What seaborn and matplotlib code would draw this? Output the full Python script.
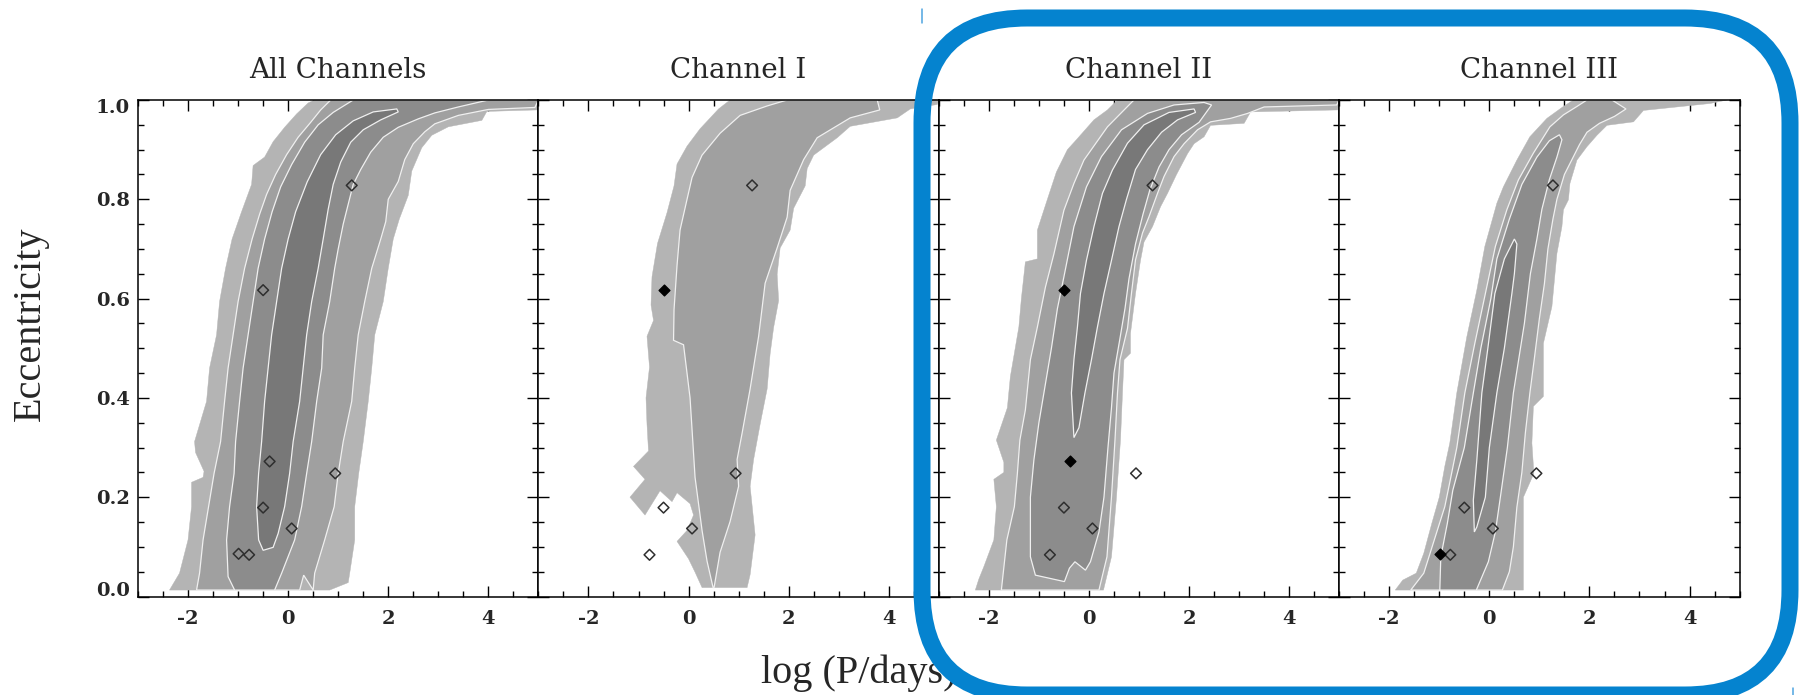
import numpy as np
import pandas as pd
import matplotlib
matplotlib.use('Agg')
import matplotlib.pyplot as plt
import matplotlib as mpl
import matplotlib.transforms as mtransforms
from matplotlib.patches import FancyBboxPatch
from matplotlib.lines import Line2D
import seaborn as sns

sns.set_style('ticks')
plt.rcParams['font.family'] = ['DejaVu Serif']
plt.rcParams['axes.unicode_minus'] = False

## ============================ data

titles = ['All Channels', 'Channel I', 'Channel II', 'Channel III']
greys = ['#b4b4b4', '#a0a0a0', '#8c8c8c', '#787878']

# observed planets (log P, e)
planet_logp = [1.27, -0.50, -0.37, 0.94, -0.50, 0.07, -0.99, -0.78]
planet_ecc = [0.828, 0.617, 0.272, 0.248, 0.179, 0.137, 0.086, 0.084]

shown_all = [1, 1, 1, 1, 1, 1, 1, 1]
shown_ch1 = [1, 1, 0, 1, 1, 1, 0, 1]
shown_ch2 = [1, 1, 1, 1, 1, 1, 0, 1]
shown_ch3 = [1, 0, 0, 1, 1, 1, 1, 1]

filled_all = [0, 0, 0, 0, 0, 0, 0, 0]
filled_ch1 = [0, 1, 0, 0, 0, 0, 0, 0]
filled_ch2 = [0, 1, 1, 0, 0, 0, 0, 0]
filled_ch3 = [0, 0, 0, 0, 0, 0, 1, 0]

# contour outlines, (log P, e); left edge upward then right edge downward
all_l1 = [(-2.37, 0.013), (-2.17, 0.047), (-2.0, 0.114), (-1.93, 0.181), (-1.93, 0.23), (-1.70, 0.24),
          (-1.68, 0.252), (-1.85, 0.29), (-1.87, 0.312), (-1.63, 0.393), (-1.57, 0.46), (-1.43, 0.527),
          (-1.37, 0.594), (-1.25, 0.661), (-1.12, 0.72), (-0.93, 0.775), (-0.73, 0.83), (-0.70, 0.868),
          (-0.47, 0.885), (-0.30, 0.916), (-0.07, 0.945), (0.17, 0.972), (0.40, 0.994), (0.53, 1.0),
          (5.0, 1.0), (4.97, 0.98), (3.97, 0.977), (3.87, 0.959), (3.2, 0.946), (2.87, 0.929), (2.67, 0.904),
          (2.47, 0.857), (2.4, 0.808), (2.22, 0.76), (2.1, 0.72), (2.0, 0.661), (1.9, 0.594), (1.73, 0.527),
          (1.67, 0.46), (1.6, 0.393), (1.5, 0.312), (1.41, 0.248), (1.33, 0.181), (1.33, 0.114),
          (1.23, 0.047), (1.2, 0.028), (0.83, 0.013)]
all_l2 = [(-1.83, 0.013), (-1.77, 0.047), (-1.7, 0.114), (-1.59, 0.181), (-1.48, 0.248), (-1.35, 0.312),
          (-1.27, 0.393), (-1.2, 0.46), (-1.1, 0.527), (-1.0, 0.594), (-0.87, 0.661), (-0.72, 0.72),
          (-0.57, 0.77), (-0.43, 0.81), (-0.25, 0.85), (-0.03, 0.89), (0.2, 0.925), (0.45, 0.955),
          (0.65, 0.98), (0.85, 1.0),
          (5.0, 1.0), (4.93, 0.985), (4.0, 0.981), (3.4, 0.969), (2.93, 0.952), (2.73, 0.936), (2.5, 0.912),
          (2.33, 0.88), (2.2, 0.836), (2.0, 0.8), (1.95, 0.755), (1.85, 0.72), (1.67, 0.661), (1.53, 0.594),
          (1.4, 0.527), (1.33, 0.46), (1.27, 0.393), (1.1, 0.312), (1.0, 0.248), (0.92, 0.181),
          (0.73, 0.114), (0.53, 0.047), (0.5, 0.013), (0.31, 0.043), (0.23, 0.013)]
all_l3 = [(-1.07, 0.013), (-1.2, 0.04), (-1.23, 0.114), (-1.17, 0.181), (-1.08, 0.248), (-1.05, 0.312),
          (-0.97, 0.393), (-0.9, 0.46), (-0.8, 0.527), (-0.7, 0.594), (-0.6, 0.661), (-0.47, 0.72),
          (-0.32, 0.775), (-0.15, 0.825), (0.07, 0.87), (0.33, 0.915), (0.6, 0.95), (0.9, 0.975), (1.3, 1.0),
          (4.0, 1.0), (3.4, 0.986), (2.93, 0.974), (2.6, 0.962), (2.2, 0.945), (1.9, 0.925), (1.65, 0.895),
          (1.45, 0.86), (1.3, 0.83), (1.2, 0.79), (1.1, 0.75), (1.0, 0.7), (0.93, 0.661), (0.83, 0.594),
          (0.7, 0.527), (0.67, 0.46), (0.57, 0.393), (0.47, 0.312), (0.37, 0.248), (0.27, 0.181),
          (0.13, 0.114), (-0.13, 0.047), (-0.27, 0.013)]
all_l4 = [(-0.5, 0.093), (-0.59, 0.114), (-0.63, 0.181), (-0.59, 0.248), (-0.53, 0.312), (-0.47, 0.393),
          (-0.4, 0.46), (-0.33, 0.527), (-0.23, 0.594), (-0.13, 0.661), (0.0, 0.72), (0.15, 0.775),
          (0.38, 0.835), (0.65, 0.89), (0.95, 0.93), (1.3, 0.958), (1.7, 0.976), (2.17, 0.982),
          (2.2, 0.976), (1.85, 0.96), (1.5, 0.94), (1.25, 0.915), (1.05, 0.875), (0.9, 0.83), (0.8, 0.78),
          (0.7, 0.72), (0.6, 0.661), (0.47, 0.594), (0.37, 0.527), (0.3, 0.46), (0.23, 0.393), (0.1, 0.312),
          (0.03, 0.248), (-0.07, 0.181), (-0.2, 0.127), (-0.3, 0.099)]

ch1_l1 = [(0.27, 0.018), (0.13, 0.049), (0.0, 0.076), (-0.23, 0.111), (-0.03, 0.133), (0.1, 0.164),
          (0.03, 0.187), (-0.23, 0.209), (-0.33, 0.191), (-0.57, 0.213), (-0.87, 0.164), (-1.17, 0.2),
          (-0.87, 0.236), (-1.1, 0.262), (-0.8, 0.293), (-0.83, 0.347), (-0.85, 0.4), (-0.78, 0.462),
          (-0.83, 0.524), (-0.7, 0.556), (-0.75, 0.587), (-0.73, 0.644), (-0.62, 0.711), (-0.43, 0.773),
          (-0.29, 0.827), (-0.23, 0.871), (-0.03, 0.907), (0.23, 0.942), (0.6, 0.982), (0.83, 1.0),
          (5.0, 1.0), (4.97, 0.991), (4.43, 0.982), (4.17, 0.964), (3.23, 0.947), (2.97, 0.924), (2.5, 0.889),
          (2.37, 0.862), (2.33, 0.827), (2.1, 0.782), (2.03, 0.738), (1.83, 0.702), (1.77, 0.649),
          (1.8, 0.596), (1.7, 0.542), (1.63, 0.489), (1.57, 0.418), (1.43, 0.347), (1.3, 0.276),
          (1.23, 0.222), (1.33, 0.124), (1.23, 0.044), (1.17, 0.018)]
ch1_l2 = [(0.49, 0.018), (0.37, 0.071), (0.27, 0.133), (0.13, 0.24), (0.03, 0.4), (-0.1, 0.507),
          (-0.3, 0.516), (-0.29, 0.578), (-0.23, 0.667), (-0.17, 0.738), (-0.03, 0.8), (0.07, 0.844),
          (0.27, 0.889), (0.63, 0.933), (1.03, 0.969), (1.57, 0.988), (1.97, 1.0),
          (3.77, 1.0), (3.82, 0.98), (3.23, 0.964), (2.57, 0.924), (2.3, 0.88), (2.03, 0.818), (1.97, 0.764),
          (1.77, 0.702), (1.53, 0.631), (1.4, 0.524), (1.23, 0.418), (1.07, 0.329), (0.97, 0.276),
          (1.0, 0.222), (0.83, 0.151), (0.63, 0.089), (0.51, 0.018)]

ch2_l1 = [(-2.27, 0.013), (-2.2, 0.035), (-2.1, 0.06), (-1.9, 0.114), (-1.85, 0.181), (-1.9, 0.236),
          (-1.7, 0.25), (-1.7, 0.27), (-1.85, 0.315), (-1.63, 0.38), (-1.57, 0.443), (-1.4, 0.543),
          (-1.35, 0.6), (-1.27, 0.674), (-1.03, 0.68), (-1.03, 0.738), (-0.83, 0.8), (-0.65, 0.855),
          (-0.43, 0.9), (-0.25, 0.92), (0.1, 0.96), (0.37, 0.98), (0.57, 1.0),
          (5.0, 1.0), (4.97, 0.98), (3.23, 0.976), (3.1, 0.953), (2.43, 0.949), (2.3, 0.926), (2.1, 0.912),
          (1.97, 0.892), (1.75, 0.85), (1.57, 0.812), (1.43, 0.785), (1.27, 0.745), (1.1, 0.714),
          (1.03, 0.677), (0.93, 0.61), (0.83, 0.53), (0.83, 0.49), (0.7, 0.477), (0.67, 0.41),
          (0.63, 0.315), (0.55, 0.2), (0.45, 0.08), (0.29, 0.013)]
ch2_l2 = [(-1.75, 0.013), (-1.64, 0.114), (-1.49, 0.181), (-1.43, 0.248), (-1.38, 0.315), (-1.27, 0.376),
          (-1.17, 0.477), (-1.03, 0.543), (-0.87, 0.623), (-0.7, 0.69), (-0.5, 0.778), (-0.3, 0.832),
          (-0.1, 0.879), (0.37, 0.946), (0.83, 0.993), (0.9, 1.0),
          (5.0, 1.0), (4.95, 0.99), (3.5, 0.986), (3.17, 0.973), (2.83, 0.963), (2.43, 0.956), (2.17, 0.94),
          (1.9, 0.912), (1.7, 0.886), (1.5, 0.846), (1.37, 0.812), (1.2, 0.765), (1.07, 0.732),
          (0.93, 0.678), (0.85, 0.611), (0.77, 0.54), (0.62, 0.477), (0.57, 0.41), (0.52, 0.315),
          (0.45, 0.2), (0.36, 0.08), (0.2, 0.013)]
ch2_l3 = [(-1.07, 0.043), (-1.17, 0.08), (-1.17, 0.2), (-1.1, 0.275), (-1.0, 0.35), (-0.9, 0.41),
          (-0.75, 0.5), (-0.63, 0.58), (-0.5, 0.644), (-0.3, 0.745), (-0.05, 0.825), (0.25, 0.886),
          (0.65, 0.94), (1.17, 0.973), (1.7, 0.99), (2.3, 0.995),
          (2.45, 0.99), (2.2, 0.955), (1.85, 0.93), (1.6, 0.9), (1.4, 0.865), (1.22, 0.82), (1.08, 0.77),
          (0.93, 0.71), (0.8, 0.64), (0.72, 0.58), (0.62, 0.52), (0.5, 0.45), (0.45, 0.38), (0.38, 0.3),
          (0.3, 0.2), (0.2, 0.13), (0.03, 0.07), (-0.07, 0.053), (-0.28, 0.07), (-0.39, 0.057),
          (-0.49, 0.03)]
ch2_l4 = [(-0.3, 0.32), (-0.35, 0.41), (-0.3, 0.477), (-0.23, 0.543), (-0.17, 0.61), (-0.05, 0.677),
          (0.1, 0.745), (0.27, 0.812), (0.47, 0.859), (0.77, 0.913), (1.1, 0.95), (1.6, 0.975), (2.1, 0.982),
          (2.13, 0.975), (1.77, 0.96), (1.45, 0.935), (1.17, 0.9), (0.93, 0.86), (0.75, 0.8), (0.6, 0.745),
          (0.45, 0.677), (0.3, 0.61), (0.17, 0.543), (0.05, 0.477), (-0.08, 0.41), (-0.2, 0.34)]

ch3_l1 = [(-1.88, 0.013), (-1.73, 0.033), (-1.46, 0.047), (-1.31, 0.087), (-1.15, 0.147), (-1.0, 0.2),
          (-0.89, 0.262), (-0.79, 0.309), (-0.65, 0.41), (-0.45, 0.523), (-0.25, 0.617), (-0.09, 0.705),
          (0.15, 0.792), (0.28, 0.825), (0.55, 0.879), (0.81, 0.926), (1.15, 0.963), (1.48, 0.987),
          (1.68, 1.0),
          (4.75, 1.0), (4.41, 0.993), (3.08, 0.979), (2.88, 0.956), (2.35, 0.949), (2.15, 0.929),
          (1.95, 0.906), (1.75, 0.879), (1.61, 0.832), (1.58, 0.799), (1.48, 0.779), (1.45, 0.745),
          (1.35, 0.691), (1.25, 0.584), (1.08, 0.51), (1.08, 0.403), (0.88, 0.383), (0.85, 0.309),
          (0.89, 0.248), (0.68, 0.2), (0.68, 0.013)]
ch3_l2 = [(-1.57, 0.013), (-1.31, 0.047), (-1.1, 0.114), (-0.89, 0.181), (-0.75, 0.25), (-0.65, 0.3),
          (-0.49, 0.41), (-0.29, 0.51), (-0.08, 0.61), (0.12, 0.705), (0.35, 0.779), (0.58, 0.839),
          (0.88, 0.893), (1.21, 0.946), (1.48, 0.97), (1.75, 0.987), (1.95, 1.0),
          (2.45, 1.0), (2.73, 0.982), (2.5, 0.967), (2.2, 0.953), (1.95, 0.935), (1.8, 0.91), (1.65, 0.88),
          (1.5, 0.85), (1.35, 0.8), (1.27, 0.76), (1.17, 0.7), (1.1, 0.63), (1.0, 0.56), (0.9, 0.48),
          (0.81, 0.41), (0.72, 0.33), (0.65, 0.25), (0.55, 0.18), (0.48, 0.1), (0.4, 0.05), (0.26, 0.013)]
ch3_l3 = [(-0.99, 0.013), (-0.97, 0.08), (-0.84, 0.147), (-0.73, 0.214), (-0.5, 0.3), (-0.32, 0.41),
          (-0.17, 0.5), (0.03, 0.6), (0.15, 0.68), (0.4, 0.76), (0.65, 0.83), (0.95, 0.885), (1.2, 0.918),
          (1.4, 0.93),
          (1.45, 0.92), (1.35, 0.885), (1.2, 0.84), (1.05, 0.78), (0.95, 0.72), (0.82, 0.65), (0.7, 0.55),
          (0.48, 0.41), (0.36, 0.3), (0.22, 0.2), (0.12, 0.13), (-0.02, 0.07), (-0.26, 0.013)]
ch3_l4 = [(-0.3, 0.13), (-0.32, 0.194), (-0.25, 0.275), (-0.15, 0.41), (-0.03, 0.5), (0.11, 0.61),
          (0.3, 0.68), (0.5, 0.72),
          (0.55, 0.71), (0.5, 0.65), (0.45, 0.61), (0.3, 0.5), (0.15, 0.41), (0.0, 0.3), (-0.08, 0.2),
          (-0.25, 0.14)]

## ============================ figure

contours = [[all_l1, all_l2, all_l3, all_l4],
            [ch1_l1, ch1_l2],
            [ch2_l1, ch2_l2, ch2_l3, ch2_l4],
            [ch3_l1, ch3_l2, ch3_l3, ch3_l4]]
shown = [shown_all, shown_ch1, shown_ch2, shown_ch3]
filled = [filled_all, filled_ch1, filled_ch2, filled_ch3]

df = pd.DataFrame({'logp': planet_logp, 'ecc': planet_ecc})

fig = plt.figure(figsize=(18, 6.95), dpi=100)
W, H = 1800., 695.
left, pw, top, bottom = 138., 400.4, 100., 596.5

tick_font = dict(family='DejaVu Serif', weight='bold', size=14)

for i in range(4):
	ax = fig.add_axes([(left + i * pw) / W, (H - bottom) / H, pw / W, (bottom - top) / H])

	for k, poly in enumerate(contours[i]):
		px, py = zip(*poly)
		if k == 0:
			ax.fill(px, py, facecolor=greys[k], edgecolor=greys[k], lw=0.3, zorder=1)
		else:
			ax.fill(px, py, facecolor=greys[k], edgecolor='#f0f0f0', lw=0.9, zorder=1 + k)

	d = df.copy()
	d['shown'] = shown[i]
	d['filled'] = filled[i]
	d_open = d.loc[(d['shown'] == 1) & (d['filled'] == 0), :]
	d_fill = d.loc[(d['shown'] == 1) & (d['filled'] == 1), :]
	sns.scatterplot(ax=ax, data=d_open, x='logp', y='ecc', marker='D', s=30, color='none',
		edgecolor='#2e2e2e', linewidth=1.1, legend=False, zorder=10)
	ax.collections[-1].set_facecolor('none')
	if len(d_fill) > 0:
		sns.scatterplot(ax=ax, data=d_fill, x='logp', y='ecc', marker='D', s=30, color='k',
			edgecolor='k', linewidth=1.0, legend=False, zorder=11)

	ax.set_xlabel('')
	ax.set_ylabel('')
	ax.set_xlim(-3, 5)
	ax.set_ylim(0, 1)
	ax.set_xticks([-2, 0, 2, 4])
	ax.set_yticks(np.arange(0., 1.01, 0.2))
	ax.xaxis.set_minor_locator(mpl.ticker.MultipleLocator(0.5))
	ax.yaxis.set_minor_locator(mpl.ticker.MultipleLocator(0.05))
	ax.set_xticklabels(['-2', '0', '2', '4'], fontdict=tick_font)
	ax.set_yticklabels(['{0:.1f}'.format(v) for v in np.arange(0., 1.01, 0.2)], fontdict=tick_font)
	ax.tick_params(which='both', direction='in', top=True, right=True, width=1.0, color='k')
	ax.tick_params(which='major', length=8)
	ax.tick_params(which='minor', length=4)
	ax.tick_params(axis='x', pad=10)
	ax.tick_params(axis='y', pad=6)
	for sp in ax.spines.values():
		sp.set_linewidth(1.1)
		sp.set_color('k')
		sp.set_zorder(20)
	if i > 0:
		ax.tick_params(labelleft=False)
	else:
		labs = ax.get_yticklabels()
		labs[0].set_transform(labs[0].get_transform() + mtransforms.ScaledTranslation(0, 8 / 100., fig.dpi_scale_trans))
		labs[-1].set_transform(labs[-1].get_transform() + mtransforms.ScaledTranslation(0, -6 / 100., fig.dpi_scale_trans))
	ax.set_title(titles[i], fontsize=20, family='DejaVu Serif', pad=15.5)

fig.text(859 / W, (H - 683) / H, 'log (P/days)', ha='center', va='baseline',
	family='Liberation Serif', fontsize=29)
fig.text(30 / W, (H - 324) / H, 'Eccentricity', ha='center', va='center', rotation=90,
	family='Liberation Serif', fontsize=29)

# blue highlight frame around channels II and III
ident = mtransforms.IdentityTransform()
frame = FancyBboxPatch((922, 0), 868, 677, boxstyle='round,pad=0,rounding_size=105',
	transform=ident, fill=False, edgecolor='#0583cf', linewidth=17 * 0.72, zorder=30)
fig.add_artist(frame)
fig.add_artist(Line2D([922, 922], [672, 686], transform=ident, color='#4ea4e0', lw=1.1, zorder=30))
fig.add_artist(Line2D([1793, 1793], [0, 7], transform=ident, color='#4ea4e0', lw=1.1, zorder=30))

fig.savefig('out.png', dpi=100)
